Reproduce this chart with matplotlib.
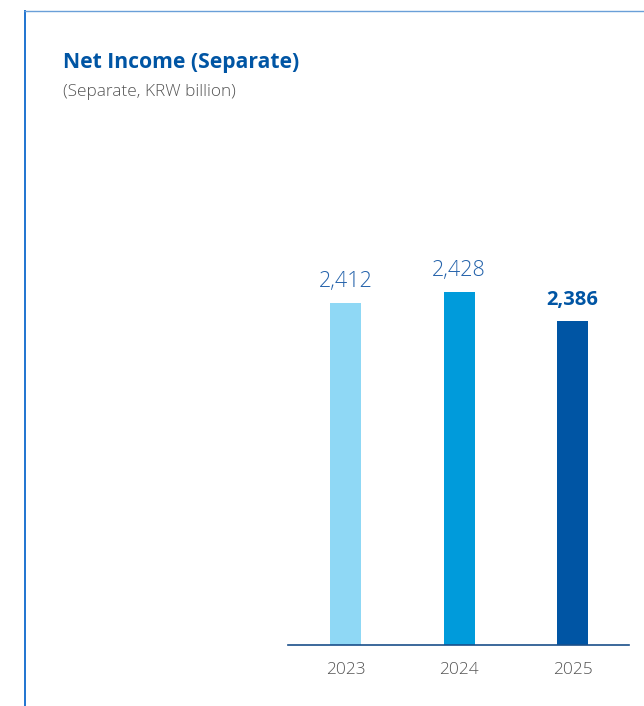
import matplotlib
matplotlib.use("Agg")
import matplotlib.pyplot as plt
from matplotlib.lines import Line2D

years = ["2023", "2024", "2025"]
net_income = [2412, 2428, 2386]
bar_colors = ["#8fd8f5", "#009bdb", "#0055a4"]
label_colors = ["#2563ab", "#2563ab", "#0055a4"]
label_weights = ["light", "light", "bold"]

W, H = 644, 706
plt.rcParams["font.family"] = ["Open Sans", "DejaVu Sans"]
fig = plt.figure(figsize=(W / 100, H / 100), dpi=100)

def fx(px):
    return px / W

def fy(py):
    return 1 - py / H

# frame lines (left and top)
fig.add_artist(Line2D([fx(24.5), fx(24.5)], [fy(10), fy(706)], color="#1f74d0",
                      lw=1.4, solid_capstyle="butt"))
fig.add_artist(Line2D([fx(24), fx(644)], [fy(10.5), fy(10.5)], color="#6a9fd8",
                      lw=1.0, solid_capstyle="butt"))

fig.text(fx(63), fy(68), "Net Income (Separate)", fontsize=15.2, fontweight="bold",
         color="#0055a4", va="baseline", ha="left")
fig.text(fx(63), fy(96), "(Separate, KRW billion)", fontsize=12.4, fontweight="light",
         color="#555555", va="baseline", ha="left")

ax_left, ax_right, ax_top, ax_bottom = 288, 629, 245, 645
ax = fig.add_axes([fx(ax_left), fy(ax_bottom), (ax_right - ax_left) / W, (ax_bottom - ax_top) / H])

x = range(len(years))
ax.bar(x, net_income, width=0.273, color=bar_colors, zorder=2)
ax.set_xlim(-0.507, 2.498)
ax.set_ylim(1924, 2494.6)

for xi, v, c, w in zip(x, net_income, label_colors, label_weights):
    ax.annotate(f"{v:,}", (xi, v), xytext=(0, 8), textcoords="offset points",
                ha="center", va="bottom", fontsize=15.5 if w == "light" else 14.5,
                color=c, fontweight=w)

for s in ["top", "right", "left"]:
    ax.spines[s].set_visible(False)
ax.spines["bottom"].set_color("#1a4f8a")
ax.spines["bottom"].set_linewidth(1.2)
ax.set_yticks([])
ax.set_xticks(list(x))
ax.set_xticklabels(years, fontsize=12.5, color="#555555", fontweight="light")
ax.tick_params(axis="x", length=0, pad=12)

fig.savefig("out.png", dpi=100)
